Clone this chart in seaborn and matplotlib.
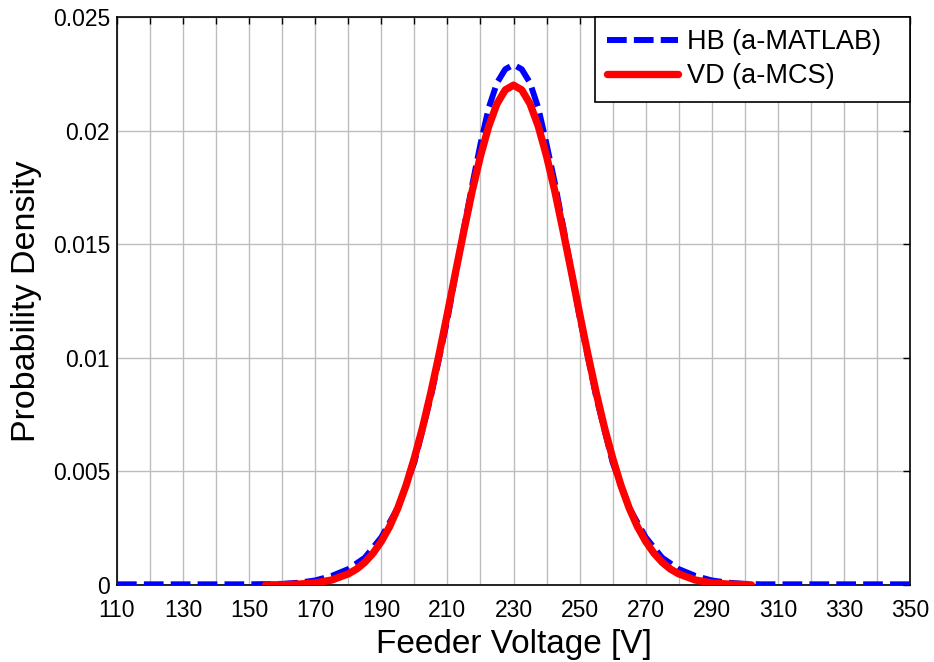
import numpy as np
import pandas as pd
import matplotlib
matplotlib.use("Agg")
import matplotlib.pyplot as plt
import seaborn as sns

# HB (a-MATLAB) curve
hb_x = [110, 150, 155, 160, 165, 170, 175, 180, 185, 190, 195, 200, 205, 210, 212.5, 215,
        217.5, 220, 222.5, 225, 227.5, 230, 232.5, 235, 237.5, 240, 242.5, 245, 247.5, 250,
        255, 260, 265, 270, 275, 280, 285, 290, 295, 300, 305, 350]
hb_y = [0.00003, 0.00003, 0.00004, 0.00005, 0.0001, 0.0002, 0.0004, 0.0007, 0.0012, 0.0021,
        0.0034, 0.0054, 0.0083, 0.0117, 0.0137, 0.0157, 0.0176, 0.0194, 0.0210, 0.0221,
        0.0227, 0.0229, 0.0227, 0.0221, 0.0210, 0.0194, 0.0177, 0.0158, 0.0138, 0.0118,
        0.0083, 0.0054, 0.0034, 0.0021, 0.0012, 0.0007, 0.0004, 0.0002, 0.0001, 0.00005,
        0.00003, 0.00003]

# VD (a-MCS) curve
vd_x = [155, 160, 165, 170, 175, 180, 182.5, 185, 187.5, 190, 192.5, 195, 197.5, 200, 202.5,
        205, 207.5, 210, 212.5, 215, 217.5, 220, 222.5, 225, 227.5, 230, 232.5, 235, 237.5,
        240, 242.5, 245, 247.5, 250, 252.5, 255, 257.5, 260, 262.5, 265, 267.5, 270, 272.5,
        275, 277.5, 280, 285, 290, 295, 302]
vd_y = [0.000005, 0.00001, 0.00004, 0.00009, 0.00022, 0.00049, 0.0007, 0.0010, 0.0014,
        0.00192, 0.00257, 0.00339, 0.00439, 0.00559, 0.00694, 0.00848, 0.01016, 0.01195,
        0.01379, 0.0156, 0.01734, 0.01888, 0.02019, 0.02118, 0.02179, 0.0220, 0.02179,
        0.02118, 0.02019, 0.01888, 0.01734, 0.0156, 0.01379, 0.01195, 0.01016, 0.00848,
        0.00694, 0.00559, 0.00439, 0.00339, 0.00257, 0.00192, 0.0014, 0.0010, 0.0007,
        0.00049, 0.00022, 0.00009, 0.00004, 0.000005]

x_ticks = list(range(110, 351, 10))
x_labels = [str(v) if (v - 110) % 20 == 0 else "" for v in x_ticks]
y_ticks = [0, 0.005, 0.01, 0.015, 0.02, 0.025]
y_labels = ["0", "0.005", "0.01", "0.015", "0.02", "0.025"]

sns.set_style("white")
plt.rcParams["font.family"] = ["Liberation Sans", "DejaVu Sans"]
plt.rcParams["text.color"] = "black"
plt.rcParams["axes.labelcolor"] = "black"
plt.rcParams["xtick.color"] = "black"
plt.rcParams["ytick.color"] = "black"

fig = plt.figure(figsize=(9.34, 6.62), dpi=100)
ax = fig.add_axes([117 / 934, 1 - 585 / 662, (910 - 117) / 934, (585 - 17) / 662])

hb = pd.DataFrame({"x": hb_x, "y": hb_y})
vd = pd.DataFrame({"x": vd_x, "y": vd_y})

sns.lineplot(data=hb, x="x", y="y", ax=ax, color="#0000ff", linewidth=4.3,
             linestyle=(0, (3.3, 1.2)), label="HB (a-MATLAB)", zorder=3)
sns.lineplot(data=vd, x="x", y="y", ax=ax, color="#ff0000", linewidth=5.3,
             label="VD (a-MCS)", zorder=4)

ax.set_xlim(110, 350)
ax.set_ylim(0, 0.025)
ax.set_xticks(x_ticks)
ax.set_xticklabels(x_labels, fontsize=16.5)
ax.set_yticks(y_ticks)
ax.set_yticklabels(y_labels, fontsize=16.5)
ax.grid(True, color="#bdbdbd", linewidth=1, linestyle="-")
ax.set_axisbelow(True)
ax.tick_params(direction="in", top=True, right=True, length=5, width=1, colors="black")
ax.tick_params(axis="x", pad=10)
ax.tick_params(axis="y", pad=5)
for s in ax.spines.values():
    s.set_visible(True)
    s.set_color("black")
    s.set_linewidth(1.2)

ax.set_xlabel("Feeder Voltage [V]", fontsize=24, labelpad=5)
ax.set_ylabel("Probability Density", fontsize=24.5, labelpad=8)

x0 = (595 - 117) / (910 - 117)
leg = ax.legend(loc="upper right", bbox_to_anchor=(x0, 0, 1 - x0, 1), mode="expand",
                fontsize=19.5, frameon=True, fancybox=False,
                borderaxespad=0, handlelength=2.6, handletextpad=0.35,
                borderpad=0.45, labelspacing=0.3)
leg.get_frame().set_edgecolor("black")
leg.get_frame().set_linewidth(1.2)
leg.get_frame().set_alpha(1)

fig.savefig("out.png", dpi=100, facecolor="white")
